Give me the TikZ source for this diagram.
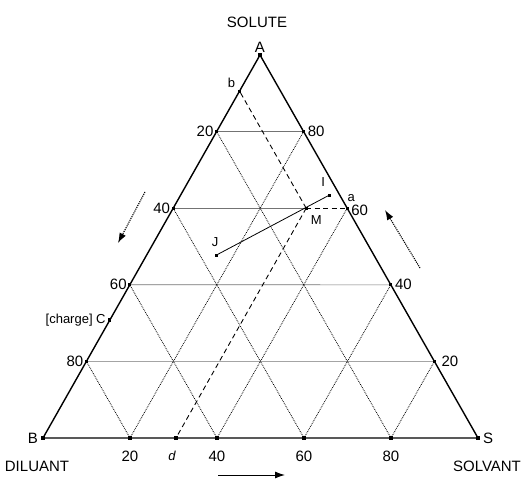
\documentclass[tikz,border=0pt]{standalone}
\usepackage{fontspec}
\setmainfont{Liberation Sans}
\usetikzlibrary{arrows.meta,calc}
\begin{document}
\begin{tikzpicture}[x=1pt,y=-1pt,
  side/.style={line width=1.4pt},
  dgrid/.style={line width=0.8pt, densely dotted},
  hgrid/.style={line width=0.6pt, black!55},
  construct/.style={line width=0.9pt, dash pattern=on 5pt off 3.5pt},
  lbl/.style={font=\fontsize{15}{15}\selectfont, inner sep=1pt},
  small/.style={font=\fontsize{13}{13}\selectfont, inner sep=1pt},
  tick/.style={rectangle, fill, inner sep=0pt, minimum size=3.2pt},
  trend/.style={line width=1.1pt, densely dotted, -{Latex[length=10pt,width=7pt]}},
  trendsolid/.style={line width=1pt, -{Latex[length=10pt,width=7pt]}}
]
\useasboundingbox (0,0) rectangle (528,481);
% vertices
\coordinate (A) at (260,55);
\coordinate (B) at (43,438);
\coordinate (S) at (478,438);
% ticks on the sides
\foreach \k in {20,40,60,80} {
  \coordinate (L\k) at ($(A)!\k/100!(B)$);
  \coordinate (D\k) at ($(B)!\k/100!(S)$);
}
\coordinate (R80) at ($(A)!0.2!(S)$);
\coordinate (R60) at ($(A)!0.4!(S)$);
\coordinate (R40) at ($(A)!0.6!(S)$);
\coordinate (R20) at ($(A)!0.8!(S)$);
% grid
\foreach \p/\q in {L20/R80,L40/R60,L60/R40,L80/R20} \draw[hgrid] (\p) -- (\q);
\foreach \p/\q in {D20/L80,D40/L60,D60/L40,D80/L20} \draw[dgrid] (\p) -- (\q);
\foreach \p/\q in {D20/R80,D40/R60,D60/R40,D80/R20} \draw[dgrid] (\p) -- (\q);
% sides
\draw[side, line join=round] (A) -- (B) -- (S) -- cycle;
% construction points
\coordinate (M) at (barycentric cs:A=0.6,B=0.0943,S=0.3057);
\coordinate (a) at (barycentric cs:A=0.6,S=0.4);
\coordinate (b) at (barycentric cs:A=0.9057,B=0.0943);
\coordinate (d) at (barycentric cs:B=0.6943,S=0.3057);
\coordinate (C) at ($(A)!0.692!(B)$);
\coordinate (I) at ($(M)+(23,-13)$);
\coordinate (J) at ($(M)+(-90,47)$);
\draw[white, line width=1.2pt] (M) -- (a);
\draw[construct] (M) -- (b);
\draw[construct] (M) -- (a);
\draw[construct] (M) -- (d);
\draw[line width=0.8pt] (J) -- (I);
% tick marks
\foreach \p in {A,B,S,L20,L40,L60,L80,R80,R60,R40,R20,D20,D40,D60,D80,b,d,C,M,I,J}
  \node[tick] (t\p) at (\p) {};
% labels
\node[lbl] (solute) at (257,22) {SOLUTE};
\node[lbl, above=1pt] (lA) at (A) {A};
\node[lbl, anchor=east] (lB) at ($(B)+(-4,0)$) {B};
\node[lbl, anchor=west] (lS) at ($(S)+(4,0)$) {S};
\node[lbl] (diluant) at (37,466) {DILUANT};
\node[lbl] (solvant) at (487,466) {SOLVANT};
\node[lbl, anchor=east] (nL20) at ($(L20)+(-2,0)$) {20};
\node[lbl, anchor=east] (nL40) at ($(L40)+(-2,0)$) {40};
\node[lbl, anchor=east] (nL60) at ($(L60)+(-2,0)$) {60};
\node[lbl, anchor=east] (nL80) at ($(L80)+(-2,0)$) {80};
\node[lbl, anchor=west] (nR80) at ($(R80)+(3,0)$) {80};
\node[lbl, anchor=west] (nR60) at ($(R60)+(3,2)$) {60};
\node[lbl, anchor=west] (nR40) at ($(R40)+(3,0)$) {40};
\node[lbl, anchor=west] (nR20) at ($(R20)+(6,0)$) {20};
\node[lbl] (nD20) at ($(D20)+(0,18)$) {20};
\node[lbl] (nD40) at ($(D40)+(0,18)$) {40};
\node[lbl] (nD60) at ($(D60)+(0,18)$) {60};
\node[lbl] (nD80) at ($(D80)+(0,18)$) {80};
\node[small] (ld) at ($(d)+(-4,18)$) {\itshape d};
\node[small] (lb) at ($(b)+(-8,-8)$) {b};
\node[small] (la) at ($(a)+(4,-10)$) {a};
\node[small] (lM) at ($(M)+(10,12)$) {M};
\node[small] (lI) at ($(I)+(-6,-13)$) {I};
\node[small] (lJ) at ($(J)+(-1,-13)$) {J};
\node[small, anchor=east] (lC) at ($(C)+(-3,0)$) {[charge] C};
% trend arrows
\coordinate (al1) at (145,192); \coordinate (al2) at (118,243);
\coordinate (ar1) at (420,268); \coordinate (ar2) at (385,210);
\coordinate (ab1) at (218,475); \coordinate (ab2) at (285,475);
\draw[trend] (al1) -- (al2);
\draw[trend] (ar1) -- (ar2);
\draw[trendsolid] (ab1) -- (ab2);
\end{tikzpicture}
\end{document}
